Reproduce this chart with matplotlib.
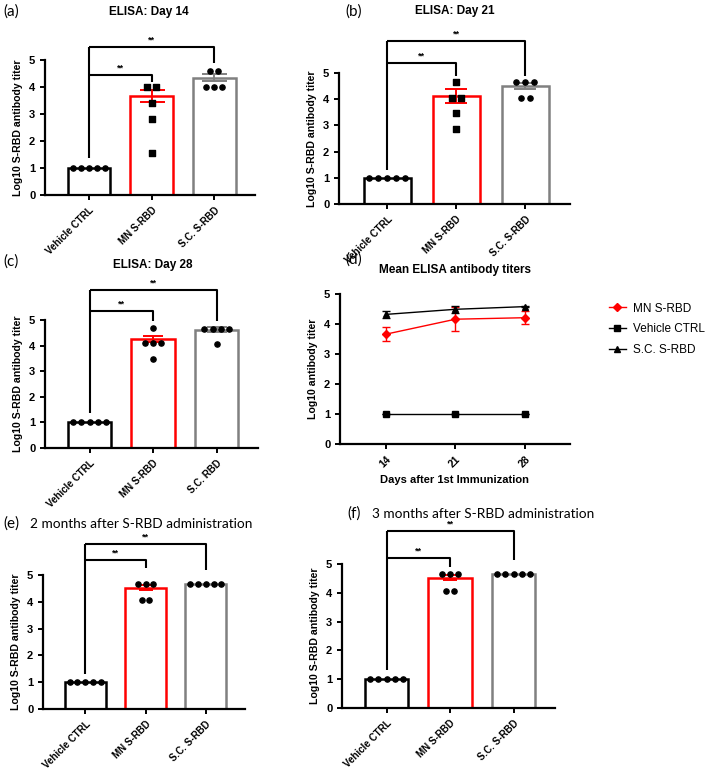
import numpy as np
import matplotlib
matplotlib.use("Agg")
import matplotlib.pyplot as plt
from matplotlib.lines import Line2D

# Data
groups = ["Vehicle CTRL", "MN S-RBD", "S.C. S-RBD"]
groups_day28 = ["Vehicle CTRL", "MN S-RBD", "S.C. RBD"]

# Day 14
d14_vehicle = [1.0, 1.0, 1.0, 1.0, 1.0]
d14_mn = [4.0, 4.0, 3.4, 2.8, 1.55]
d14_sc = [4.6, 4.6, 4.0, 4.0, 4.0]
d14_mean = [1.0, 3.66, 4.35]
d14_sem = [0.0, 0.22, 0.14]

# Day 21
d21_vehicle = [1.0, 1.0, 1.0, 1.0, 1.0]
d21_mn = [4.67, 4.06, 4.06, 3.46, 2.85]
d21_sc = [4.67, 4.67, 4.67, 4.03, 4.03]
d21_mean = [1.0, 4.13, 4.5]
d21_sem = [0.0, 0.27, 0.12]

# Day 28
d28_vehicle = [1.0, 1.0, 1.0, 1.0, 1.0]
d28_mn = [4.67, 4.09, 4.09, 4.09, 3.48]
d28_sc = [4.65, 4.65, 4.65, 4.65, 4.08]
d28_mean = [1.0, 4.26, 4.62]
d28_sem = [0.0, 0.12, 0.1]

# 2 months
m2_vehicle = [1.0, 1.0, 1.0, 1.0, 1.0]
m2_mn = [4.66, 4.66, 4.66, 4.07, 4.07]
m2_sc = [4.68, 4.68, 4.68, 4.68, 4.68]
m2_mean = [1.0, 4.53, 4.68]
m2_sem = [0.0, 0.1, 0.0]

# 3 months
m3_vehicle = [1.0, 1.0, 1.0, 1.0, 1.0]
m3_mn = [4.66, 4.66, 4.66, 4.06, 4.06]
m3_sc = [4.66, 4.66, 4.66, 4.66, 4.66]
m3_mean = [1.0, 4.53, 4.66]
m3_sem = [0.0, 0.1, 0.0]

# Mean titers over time
days = [14, 21, 28]
mean_mn = [3.66, 4.16, 4.21]
mean_mn_err = [0.24, 0.4, 0.22]
mean_vehicle = [1.0, 1.0, 1.0]
mean_vehicle_err = [0.0, 0.0, 0.0]
mean_sc = [4.32, 4.49, 4.58]
mean_sc_err = [0.12, 0.12, 0.02]

W, H = 709, 769
BAR_COLORS = ["black", "#ff0000", "#808080"]
ARIAL = "Liberation Sans"
CALIBRI = "Lato"

plt.rcParams["font.family"] = ARIAL


def px_axes(fig, left, right, top, bottom):
    # axes from pixel edges
    return fig.add_axes([left / W, 1 - bottom / H, (right - left) / W, (bottom - top) / H])


def px_text(fig, x, y, s, **kw):
    fig.text(x / W, 1 - y / H, s, **kw)


def spread(values, step=0.13, tol=0.2):
    # horizontal offsets so that equal values sit side by side
    values = np.asarray(values)
    offsets = np.zeros(len(values))
    used = np.zeros(len(values), dtype=bool)
    for i in range(len(values)):
        if used[i]:
            continue
        idx = np.where((np.abs(values - values[i]) < tol) & ~used)[0]
        used[idx] = True
        n = len(idx)
        offsets[idx] = (np.arange(n) - (n - 1) / 2) * step
    return offsets


def style_axes(ax):
    for side in ["top", "right"]:
        ax.spines[side].set_visible(False)
    for side in ["left", "bottom"]:
        ax.spines[side].set_linewidth(1.6)
    ax.tick_params(width=1.4, length=3.5)
    ax.tick_params(axis="y", labelsize=8)
    ax.tick_params(axis="x", pad=3.5)
    for lab in ax.get_yticklabels():
        lab.set_fontweight("bold")


def bar_panel(ax, labels, points, means, sems, mn_marker, brackets, capsize):
    x = np.arange(len(labels))
    for i in range(len(labels)):
        ax.bar(x[i], means[i], width=0.68, color="white",
               edgecolor=BAR_COLORS[i], linewidth=1.8, zorder=1)
        if sems[i] > 0:
            ax.errorbar(x[i], means[i], yerr=sems[i], color=BAR_COLORS[i],
                        capsize=capsize, elinewidth=1.4, capthick=1.4, zorder=2)
        marker = mn_marker if i == 1 else "o"
        ax.scatter(x[i] + spread(points[i]), points[i], marker=marker, s=14,
                   color="black", zorder=3, clip_on=False)

    ax.set_xlim(-0.7, 2.65)
    ax.set_ylim(0, 5)
    ax.set_yticks(range(6))
    ax.set_xticks(x)
    ax.set_xticklabels(labels, rotation=45, ha="right", rotation_mode="anchor",
                       fontsize=7.0, fontweight="bold")
    ax.set_ylabel("Log10 S-RBD antibody titer", fontsize=7.6, fontweight="bold")
    style_axes(ax)

    # significance brackets
    base, low, top, mn_leg, sc_leg = brackets
    kw = dict(color="black", linewidth=1.5, clip_on=False, solid_capstyle="butt")
    ax.plot([0, 0], [base, top], **kw)
    ax.plot([0, 2, 2], [top, top, sc_leg], **kw)
    ax.plot([0, 1, 1], [low, low, mn_leg], **kw)
    ax.text(0.5, low + 0.1, "**", ha="center", va="bottom", fontsize=6.5, fontweight="bold")
    ax.text(1.0, top + 0.1, "**", ha="center", va="bottom", fontsize=6.5, fontweight="bold")


fig = plt.figure(figsize=(W / 100, H / 100), dpi=100)

# (a) Day 14
ax_a = px_axes(fig, 45, 255, 60, 195)
bar_panel(ax_a, groups, [d14_vehicle, d14_mn, d14_sc], d14_mean, d14_sem, "s",
          (1.36, 4.44, 5.49, 4.2, 4.88), 9)
# (b) Day 21
ax_b = px_axes(fig, 339, 570, 73, 204)
bar_panel(ax_b, groups, [d21_vehicle, d21_mn, d21_sc], d21_mean, d21_sem, "s",
          (1.3, 5.39, 6.23, 4.89, 4.89), 8)
# (c) Day 28
ax_c = px_axes(fig, 45, 258, 320, 448)
bar_panel(ax_c, groups_day28, [d28_vehicle, d28_mn, d28_sc], d28_mean, d28_sem, "o",
          (1.35, 5.36, 6.17, 4.97, 4.97), 7)
# (e) 2 months
ax_e = px_axes(fig, 43, 245, 575, 709)
bar_panel(ax_e, groups, [m2_vehicle, m2_mn, m2_sc], m2_mean, m2_sem, "o",
          (1.3, 5.56, 6.14, 5.25, 5.19), 5)
# (f) 3 months
ax_f = px_axes(fig, 342, 555, 564, 708)
bar_panel(ax_f, groups, [m3_vehicle, m3_mn, m3_sc], m3_mean, m3_sem, "o",
          (1.32, 5.2, 6.13, 4.91, 5.14), 5)

# (d) mean titers over time
ax_d = px_axes(fig, 340, 570, 294, 444)
ax_d.errorbar(days, mean_mn, yerr=mean_mn_err, color="#ff0000", marker="D",
              markersize=4, linewidth=1.0, capsize=3, elinewidth=1.0)
ax_d.errorbar(days, mean_vehicle, yerr=mean_vehicle_err, color="black", marker="s",
              markersize=5, linewidth=1.0, capsize=3, elinewidth=1.0)
ax_d.errorbar(days, mean_sc, yerr=mean_sc_err, color="black", marker="^",
              markersize=4, linewidth=1.0, capsize=3, elinewidth=1.0)
ax_d.set_xlim(9.4, 32.5)
ax_d.set_ylim(0, 5)
ax_d.set_yticks(range(6))
ax_d.set_xticks(days)
ax_d.set_xticklabels([str(d) for d in days], rotation=45, ha="right",
                     rotation_mode="anchor", fontsize=7.5, fontweight="bold")
ax_d.set_xlabel("Days after 1st Immunization", fontsize=8, fontweight="bold")
ax_d.set_ylabel("Log10 antibody titer", fontsize=7.6, fontweight="bold")
style_axes(ax_d)

handles = [
    Line2D([], [], color="#ff0000", marker="D", markersize=4, linewidth=1.0),
    Line2D([], [], color="black", marker="s", markersize=5, linewidth=1.0),
    Line2D([], [], color="black", marker="^", markersize=4, linewidth=1.0),
]
fig.legend(handles, ["MN S-RBD", "Vehicle CTRL", "S.C. S-RBD"],
           loc="upper left", bbox_to_anchor=(598 / W, 1 - 292 / H),
           frameon=False, fontsize=8.5, handlelength=1.5, labelspacing=0.75,
           handletextpad=0.6)

# titles
px_text(fig, 149, 12, "ELISA: Day 14", ha="center", va="center", fontsize=8.5, fontweight="bold")
px_text(fig, 455, 11, "ELISA: Day 21", ha="center", va="center", fontsize=8.5, fontweight="bold")
px_text(fig, 153, 265, "ELISA: Day 28", ha="center", va="center", fontsize=8.5, fontweight="bold")
px_text(fig, 455, 270, "Mean ELISA antibody titers", ha="center", va="center",
        fontsize=8.5, fontweight="bold")
px_text(fig, 30, 524, "2 months after S-RBD administration", ha="left", va="center",
        fontsize=9.8, family=CALIBRI)
px_text(fig, 372, 514, "3 months after S-RBD administration", ha="left", va="center",
        fontsize=9.8, family=CALIBRI)

# panel letters
for label, x, y in [("(a)", 3, 12), ("(b)", 345, 12), ("(c)", 3, 262),
                    ("(d)", 345, 260), ("(e)", 3, 524), ("(f)", 347, 514)]:
    px_text(fig, x, y, label, ha="left", va="center", fontsize=11, family=CALIBRI)

fig.savefig("out.png", dpi=100)
